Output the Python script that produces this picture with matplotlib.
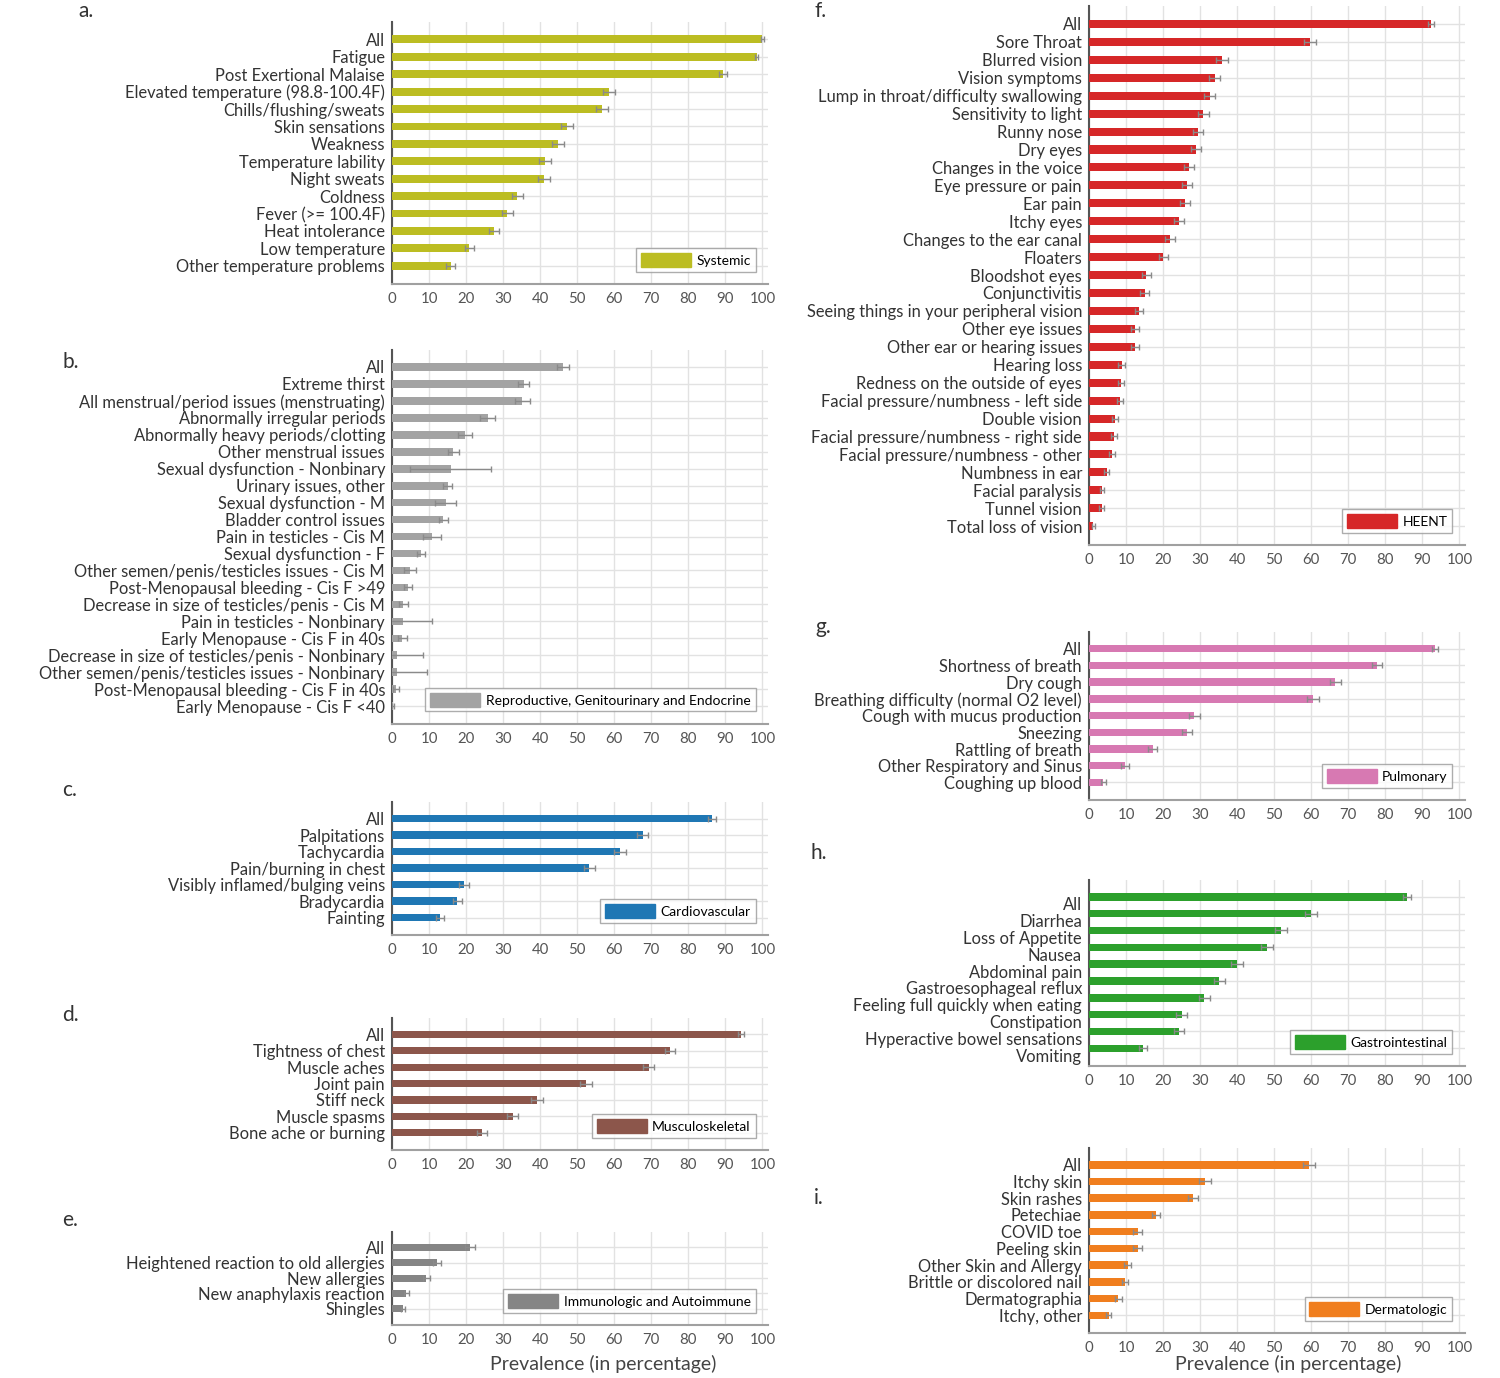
import matplotlib
matplotlib.use('Agg')
import matplotlib.pyplot as plt
import matplotlib.transforms as mtransforms

plt.rcParams['font.family'] = ['Lato', 'DejaVu Sans']

# ---- data (prevalence in %) ----
systemic_labels = ['All', 'Fatigue', 'Post Exertional Malaise', 'Elevated temperature (98.8-100.4F)',
                   'Chills/flushing/sweats', 'Skin sensations', 'Weakness', 'Temperature lability',
                   'Night sweats', 'Coldness', 'Fever (>= 100.4F)', 'Heat intolerance',
                   'Low temperature', 'Other temperature problems']
systemic_values = [100.0, 98.4, 89.4, 58.5, 56.8, 47.3, 44.9, 41.2, 41.1, 33.8, 31.1, 27.5, 20.9, 15.9]
systemic_err = [0.3, 0.4, 1.0, 1.6, 1.6, 1.6, 1.6, 1.6, 1.6, 1.5, 1.5, 1.4, 1.3, 1.2]

repro_labels = ['All', 'Extreme thirst', 'All menstrual/period issues (menstruating)',
                'Abnormally irregular periods', 'Abnormally heavy periods/clotting',
                'Other menstrual issues', 'Sexual dysfunction - Nonbinary', 'Urinary issues, other',
                'Sexual dysfunction - M', 'Bladder control issues', 'Pain in testicles - Cis M',
                'Sexual dysfunction - F', 'Other semen/penis/testicles issues - Cis M',
                'Post-Menopausal bleeding - Cis F >49', 'Decrease in size of testicles/penis - Cis M',
                'Pain in testicles - Nonbinary', 'Early Menopause - Cis F in 40s',
                'Decrease in size of testicles/penis - Nonbinary',
                'Other semen/penis/testicles issues - Nonbinary',
                'Post-Menopausal bleeding - Cis F in 40s', 'Early Menopause - Cis F <40']
repro_values = [46.2, 35.6, 35.2, 25.8, 19.7, 16.6, 15.8, 15.0, 14.5, 13.9, 10.8, 7.8, 4.8, 4.4,
                3.1, 3.1, 2.8, 1.4, 1.3, 1.0, 0.2]
repro_err = [1.6, 1.5, 2.0, 2.0, 1.8, 1.5, 11.0, 1.1, 2.8, 1.1, 2.5, 1.0, 1.6, 1.1, 1.3, 7.7,
             1.2, 6.9, 8.1, 0.8, 0.3]

cardio_labels = ['All', 'Palpitations', 'Tachycardia', 'Pain/burning in chest',
                 'Visibly inflamed/bulging veins', 'Bradycardia', 'Fainting']
cardio_values = [86.3, 67.7, 61.5, 53.3, 19.4, 17.6, 12.9]
cardio_err = [1.1, 1.5, 1.6, 1.6, 1.3, 1.2, 1.1]

musculo_labels = ['All', 'Tightness of chest', 'Muscle aches', 'Joint pain', 'Stiff neck',
                  'Muscle spasms', 'Bone ache or burning']
musculo_values = [94.2, 75.0, 69.3, 52.4, 39.2, 32.6, 24.3]
musculo_err = [0.7, 1.4, 1.5, 1.6, 1.6, 1.5, 1.4]

immuno_labels = ['All', 'Heightened reaction to old allergies', 'New allergies',
                 'New anaphylaxis reaction', 'Shingles']
immuno_values = [21.0, 12.1, 9.3, 3.9, 3.0]
immuno_err = [1.3, 1.1, 1.0, 0.6, 0.6]

heent_labels = ['All', 'Sore Throat', 'Blurred vision', 'Vision symptoms',
                'Lump in throat/difficulty swallowing', 'Sensitivity to light', 'Runny nose',
                'Dry eyes', 'Changes in the voice', 'Eye pressure or pain', 'Ear pain', 'Itchy eyes',
                'Changes to the ear canal', 'Floaters', 'Bloodshot eyes', 'Conjunctivitis',
                'Seeing things in your peripheral vision', 'Other eye issues',
                'Other ear or hearing issues', 'Hearing loss', 'Redness on the outside of eyes',
                'Facial pressure/numbness - left side', 'Double vision',
                'Facial pressure/numbness - right side', 'Facial pressure/numbness - other',
                'Numbness in ear', 'Facial paralysis', 'Tunnel vision', 'Total loss of vision']
heent_values = [92.3, 59.7, 35.9, 33.9, 32.6, 30.9, 29.5, 28.8, 27.0, 26.4, 25.9, 24.3, 21.9,
                20.1, 15.5, 15.1, 13.5, 12.5, 12.4, 8.8, 8.6, 8.4, 7.1, 6.8, 6.2, 4.8, 3.5, 3.4, 1.2]
heent_err = [0.9, 1.6, 1.5, 1.5, 1.5, 1.5, 1.4, 1.4, 1.4, 1.4, 1.4, 1.4, 1.3, 1.3, 1.2, 1.2,
             1.1, 1.1, 1.1, 0.9, 0.9, 0.9, 0.8, 0.8, 0.8, 0.7, 0.6, 0.6, 0.4]

pulm_labels = ['All', 'Shortness of breath', 'Dry cough', 'Breathing difficulty (normal O2 level)',
               'Cough with mucus production', 'Sneezing', 'Rattling of breath',
               'Other Respiratory and Sinus', 'Coughing up blood']
pulm_values = [93.3, 77.7, 66.5, 60.5, 28.4, 26.5, 17.2, 9.7, 3.9]
pulm_err = [0.8, 1.3, 1.5, 1.6, 1.5, 1.4, 1.2, 1.0, 0.6]

gi_labels = ['All', 'Diarrhea', 'Loss of Appetite', 'Nausea', 'Abdominal pain',
             'Gastroesophageal reflux', 'Feeling full quickly when eating', 'Constipation',
             'Hyperactive bowel sensations', 'Vomiting']
gi_values = [85.8, 60.0, 51.9, 48.1, 39.9, 35.2, 31.1, 25.0, 24.3, 14.6]
gi_err = [1.1, 1.6, 1.6, 1.6, 1.6, 1.5, 1.5, 1.4, 1.4, 1.1]

derm_labels = ['All', 'Itchy skin', 'Skin rashes', 'Petechiae', 'COVID toe', 'Peeling skin',
               'Other Skin and Allergy', 'Brittle or discolored nail', 'Dermatographia',
               'Itchy, other']
derm_values = [59.3, 31.3, 28.0, 18.1, 13.1, 13.1, 10.4, 9.7, 7.9, 5.3]
derm_err = [1.6, 1.5, 1.4, 1.2, 1.1, 1.1, 1.0, 0.9, 0.9, 0.7]

xticks = list(range(0, 101, 10))

fig = plt.figure(figsize=(15, 13.78), dpi=100)
W, H = 1500.0, 1378.0


def make_ax(x0, x1, ytop, ybot):
    # pixel box -> figure fraction
    return fig.add_axes([x0 / W, 1 - ybot / H, (x1 - x0) / W, (ybot - ytop) / H])


def draw_panel(ax, labels, values, errs, color, name, letter, letter_xy,
               xlabel_xy=None, label_shift=0):
    n = len(labels)
    pos = list(range(n))
    ax.barh(pos, values, height=0.45, color=color, zorder=3)
    ax.errorbar(values, pos, xerr=errs, fmt='none', ecolor='#8a8a8a', elinewidth=1,
                capsize=2, capthick=1, zorder=4)
    ax.set_ylim(n - 1 + 1.05, -1.0)
    ax.set_xlim(0, 101.5)
    ax.set_yticks(pos)
    ax.set_yticklabels(labels, fontsize=11.9, color='#333333')
    ax.set_xticks(xticks)
    ax.set_xticklabels([str(t) for t in xticks], fontsize=10.8, color='#555555')
    ax.tick_params(axis='both', length=0)
    ax.tick_params(axis='y', pad=5)
    ax.tick_params(axis='x', pad=6)
    ax.grid(True, color='#e2e2e2', linewidth=1, zorder=0)
    ax.set_axisbelow(True)
    for s in ['top', 'right']:
        ax.spines[s].set_visible(False)
    ax.spines['left'].set_color('#555555')
    ax.spines['left'].set_linewidth(1.5)
    ax.spines['bottom'].set_color('#a0a0a0')
    ax.spines['bottom'].set_linewidth(1.5)
    ax.legend([plt.Rectangle((0, 0), 1, 1, color=color)], [name], loc='lower right',
              fontsize=10, frameon=True, fancybox=False, edgecolor='#999999',
              handlelength=3.6, handleheight=1.1, borderpad=0.35, borderaxespad=0.9,
              handletextpad=0.4)
    if label_shift:
        off = mtransforms.ScaledTranslation(0, label_shift / 100.0, fig.dpi_scale_trans)
        for t in ax.get_yticklabels():
            t.set_transform(t.get_transform() + off)
    if xlabel_xy is not None:
        fig.text(xlabel_xy[0] / W, 1 - xlabel_xy[1] / H, 'Prevalence (in percentage)',
                 fontsize=14, color='#444444', ha='center', va='center')
    fig.text(letter_xy[0] / W, 1 - letter_xy[1] / H, letter, fontsize=15, color='#333333',
             ha='center', va='center')


ax_a = make_ax(392, 768, 22, 284)
draw_panel(ax_a, systemic_labels, systemic_values, systemic_err, '#bcbd22', 'Systemic',
           'a.', (86, 11))

ax_b = make_ax(392, 768, 350, 724)
draw_panel(ax_b, repro_labels, repro_values, repro_err, '#a3a3a3',
           'Reproductive, Genitourinary and Endocrine', 'b.', (71, 362))

ax_c = make_ax(392, 768, 802, 935)
draw_panel(ax_c, cardio_labels, cardio_values, cardio_err, '#1f77b4', 'Cardiovascular',
           'c.', (70, 790))

ax_d = make_ax(392, 768, 1018, 1150)
draw_panel(ax_d, musculo_labels, musculo_values, musculo_err, '#8c564b', 'Musculoskeletal',
           'd.', (70, 1015))

ax_e = make_ax(392, 768, 1232, 1325)
draw_panel(ax_e, immuno_labels, immuno_values, immuno_err, '#858585',
           'Immunologic and Autoimmune', 'e.', (70, 1220), xlabel_xy=(603, 1364))

ax_f = make_ax(1089, 1465, 6, 545)
draw_panel(ax_f, heent_labels, heent_values, heent_err, '#d62728', 'HEENT', 'f.', (821, 11))

ax_g = make_ax(1089, 1465, 632, 800)
draw_panel(ax_g, pulm_labels, pulm_values, pulm_err, '#d779b2', 'Pulmonary', 'g.', (823, 627))

ax_h = make_ax(1089, 1465, 880, 1066)
draw_panel(ax_h, gi_labels, gi_values, gi_err, '#2ca02c', 'Gastrointestinal', 'h.', (819, 853),
           label_shift=-7)

ax_i = make_ax(1089, 1465, 1148, 1333)
draw_panel(ax_i, derm_labels, derm_values, derm_err, '#f07e1e', 'Dermatologic', 'i.',
           (819, 1198), xlabel_xy=(1288, 1364))

fig.savefig('out.png', dpi=100, facecolor='white')
